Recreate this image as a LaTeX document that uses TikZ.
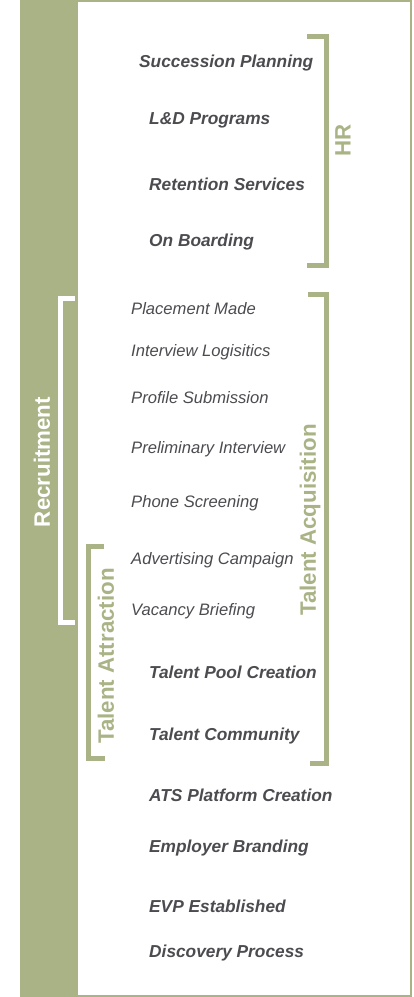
\documentclass[tikz,border=0pt]{standalone}
\usepackage{fontspec}
\setmainfont{Liberation Sans}
\definecolor{sage}{HTML}{A9B386}
\definecolor{txt}{HTML}{4B4B50}
\begin{document}
\begin{tikzpicture}[x=1pt,y=-1pt,
  bi/.style={anchor=west,inner sep=0pt,text=txt,font=\fontsize{17.3}{19}\selectfont\bfseries\itshape},
  ri/.style={anchor=west,inner sep=0pt,text=txt,font=\fontsize{16.6}{19}\selectfont\itshape},
  grp/.style={inner sep=0pt,rotate=90,font=\fontsize{22.3}{24}\selectfont\bfseries},
  brk/.style={draw=sage,line width=5pt},
  wbrk/.style={draw=white,line width=5pt}]
\useasboundingbox (0,0) rectangle (413,997);
\fill[sage] (20,0) rectangle (78,997);
\draw[sage,line width=2pt] (78,1) -- (411,1) -- (411,996) -- (78,996);
% HR items
\node[bi] (sp) at (139,63.5) {Succession Planning};
\node[bi] (ld) at (149,120.5) {L\&D Programs};
\node[bi] (rs) at (149,184.5) {Retention Services};
\node[bi] (ob) at (149,242.5) {On Boarding};
% recruitment items
\node[ri] (pm) at (131,308.5) {Placement Made};
\node[ri] (il) at (131,352.5) {Interview Logisitics};
\node[ri] (ps) at (131,397.5) {Profile Submission};
\node[ri] (pi) at (131,449.5) {Preliminary Interview};
\node[ri] (phs) at (131,503.5) {Phone Screening};
\node[ri] (ac) at (131,560.5) {Advertising Campaign};
\node[ri] (vb) at (131,611.5) {Vacancy Briefing};
\node[bi] (tpc) at (149,672.5) {Talent Pool Creation};
\node[bi] (tc) at (149,736.5) {Talent Community};
\node[bi] (ats) at (149,795.5) {ATS Platform Creation};
\node[bi] (eb) at (149,848.5) {Employer Branding};
\node[bi] (evp) at (149,906.5) {EVP Established};
\node[bi] (dp) at (149,953.5) {Discovery Process};
% brackets
\draw[brk] (307,36) -- (326,36) -- (326,265) -- (307,265);
\node[grp,text=sage] (hr) at (343,140) {HR};
\draw[brk] (308,294) -- (326.5,294) -- (326.5,763) -- (310,763);
\node[grp,text=sage] (ta) at (310,520) {Talent Acquisition};
\draw[wbrk] (75,298.5) -- (60.5,298.5) -- (60.5,622) -- (75,622);
\node[grp,text=white] (rec) at (42,462) {Recruitment};
\draw[brk] (104,546) -- (88,546) -- (88,758) -- (105,758);
\node[grp,text=sage] (tat) at (106,656) {Talent Attraction};
\end{tikzpicture}
\end{document}
